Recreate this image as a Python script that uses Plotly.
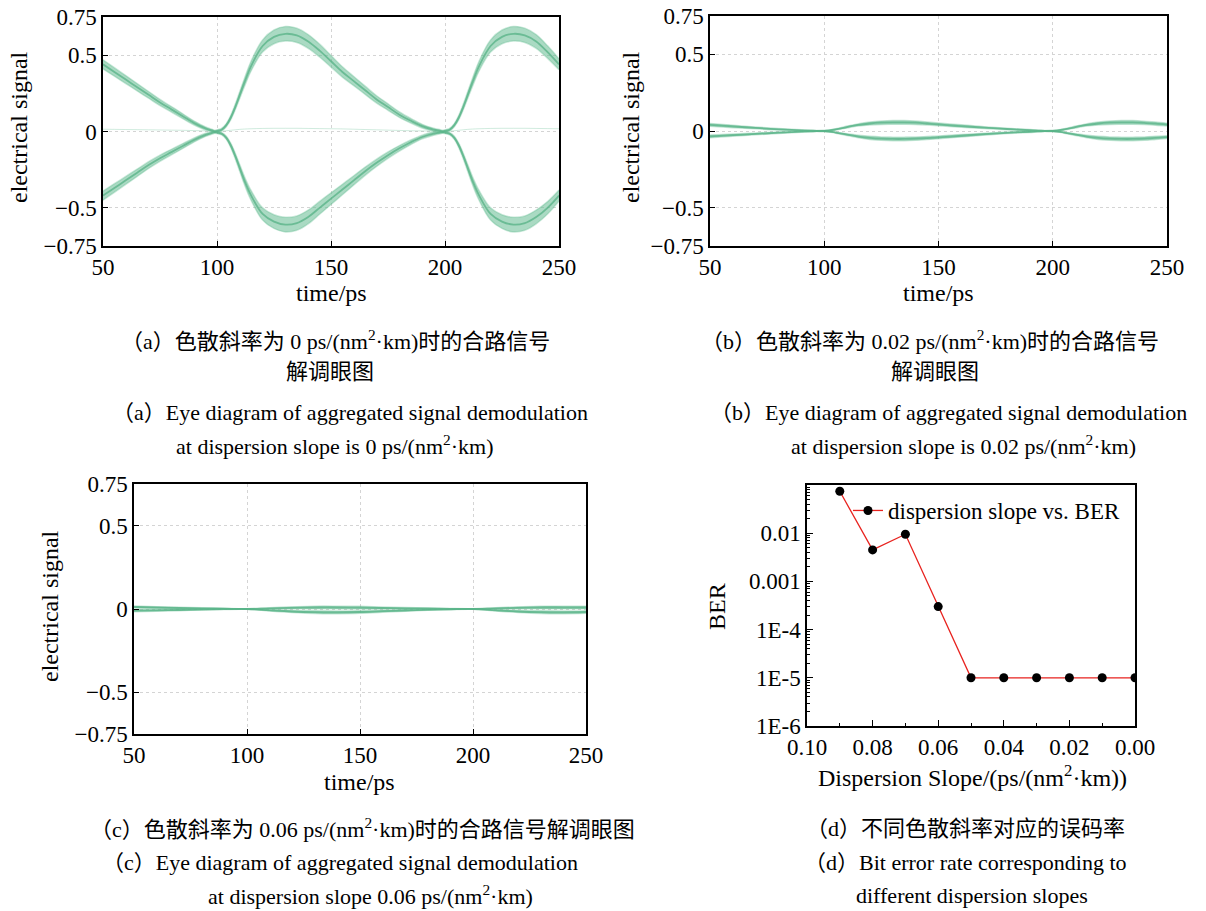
import plotly.graph_objects as go

# ---------------- data ----------------
# time axis samples (ps)
t_a = [50, 55, 60, 65, 70, 75, 80, 85, 90, 95, 98, 99, 100, 102, 104, 106, 108, 110, 112, 115,
       120, 125, 130, 135, 140, 145, 150, 155, 160, 165, 170, 175, 180, 185, 190, 195, 198, 199,
       200, 202, 204, 206, 208, 210, 212, 215, 220, 225, 230, 235, 240, 245, 250]
# (a) dispersion slope 0: upper / lower trace bundles (centre) and their spread
a_upper = [0.44, 0.39, 0.34, 0.29, 0.24, 0.19, 0.145, 0.10, 0.055, 0.02, 0.006, 0.0, 0.004, 0.012, 0.04,
           0.09, 0.16, 0.24, 0.32, 0.43, 0.56, 0.62, 0.64, 0.63, 0.59, 0.53, 0.46, 0.39, 0.33, 0.27,
           0.21, 0.16, 0.11, 0.07, 0.035, 0.012, 0.004, 0.0, 0.004, 0.012, 0.04, 0.09, 0.16, 0.24,
           0.32, 0.43, 0.56, 0.62, 0.64, 0.63, 0.59, 0.52, 0.44]
a_lower = [-0.42, -0.37, -0.32, -0.27, -0.22, -0.175, -0.135, -0.095, -0.055, -0.022, -0.008, -0.004,
           -0.006, -0.014, -0.04, -0.09, -0.16, -0.24, -0.32, -0.42, -0.54, -0.59, -0.61, -0.60,
           -0.56, -0.50, -0.44, -0.38, -0.32, -0.26, -0.205, -0.155, -0.11, -0.07, -0.036, -0.014,
           -0.006, -0.004, -0.006, -0.014, -0.04, -0.09, -0.16, -0.24, -0.32, -0.42, -0.54, -0.59,
           -0.61, -0.60, -0.56, -0.50, -0.42]
a_spread = [0.03, 0.028, 0.026, 0.024, 0.022, 0.02, 0.018, 0.016, 0.013, 0.01, 0.008, 0.008, 0.008, 0.008,
            0.01, 0.014, 0.018, 0.022, 0.026, 0.032, 0.04, 0.045, 0.048, 0.047, 0.045, 0.042, 0.038,
            0.034, 0.03, 0.027, 0.024, 0.021, 0.018, 0.015, 0.012, 0.01, 0.008, 0.008, 0.008, 0.008,
            0.01, 0.014, 0.018, 0.022, 0.026, 0.032, 0.04, 0.045, 0.048, 0.047, 0.045, 0.041, 0.036]
a_faint = [0.015, 0.014, 0.013, 0.012, 0.011, 0.01, 0.009, 0.008, 0.006, 0.004, 0.002, 0.001, 0.0, 0.002,
           0.005, 0.008, 0.011, 0.014, 0.016, 0.018, 0.02, 0.021, 0.021, 0.021, 0.02, 0.019, 0.018,
           0.017, 0.015, 0.013, 0.011, 0.009, 0.007, 0.005, 0.004, 0.002, 0.001, 0.0, 0.0, 0.002,
           0.005, 0.008, 0.011, 0.014, 0.016, 0.018, 0.02, 0.021, 0.021, 0.021, 0.02, 0.019, 0.018]

t_b = [50, 60, 70, 80, 90, 95, 100, 105, 110, 115, 120, 125, 130, 135, 140, 145, 150, 160, 170, 180,
       190, 195, 200, 205, 210, 215, 220, 225, 230, 235, 240, 245, 250]
# (b) dispersion slope 0.02
b_upper = [0.040, 0.030, 0.020, 0.011, 0.004, 0.002, 0.0, 0.010, 0.026, 0.040, 0.049, 0.054, 0.056,
           0.056, 0.054, 0.049, 0.043, 0.032, 0.022, 0.013, 0.005, 0.002, 0.0, 0.010, 0.026, 0.040,
           0.049, 0.054, 0.056, 0.056, 0.053, 0.048, 0.042]
b_lower = [-0.035, -0.027, -0.019, -0.011, -0.004, -0.002, 0.0, -0.010, -0.024, -0.036, -0.045, -0.050,
           -0.052, -0.052, -0.050, -0.046, -0.041, -0.031, -0.021, -0.012, -0.005, -0.002, 0.0, -0.010,
           -0.024, -0.036, -0.045, -0.050, -0.052, -0.052, -0.050, -0.045, -0.040]
b_spread = [0.009, 0.008, 0.006, 0.005, 0.004, 0.003, 0.003, 0.004, 0.006, 0.008, 0.010, 0.011, 0.012,
            0.012, 0.011, 0.010, 0.009, 0.008, 0.006, 0.005, 0.004, 0.003, 0.003, 0.004, 0.006, 0.008,
            0.010, 0.011, 0.012, 0.012, 0.011, 0.010, 0.009]

t_c = [50, 60, 70, 80, 90, 100, 110, 120, 130, 140, 150, 160, 170, 180, 190, 200, 210, 220, 230,
       240, 250]
# (c) dispersion slope 0.06
c_upper = [0.012, 0.009, 0.006, 0.004, 0.002, 0.0, 0.004, 0.007, 0.009, 0.009, 0.008, 0.006, 0.004,
           0.003, 0.001, 0.0, 0.004, 0.007, 0.009, 0.009, 0.009]
c_lower = [-0.010, -0.008, -0.006, -0.003, -0.001, 0.0, -0.008, -0.015, -0.019, -0.020, -0.018, -0.013,
           -0.009, -0.005, -0.002, 0.0, -0.008, -0.015, -0.019, -0.020, -0.018]
c_spread = [0.006, 0.005, 0.004, 0.003, 0.002, 0.002, 0.004, 0.006, 0.008, 0.008, 0.008, 0.006, 0.005,
            0.003, 0.002, 0.002, 0.004, 0.006, 0.008, 0.008, 0.008]

# (d) BER versus dispersion slope
slope = [0.09, 0.08, 0.07, 0.06, 0.05, 0.04, 0.03, 0.02, 0.01, 0.00]
ber = [0.074, 0.0045, 0.0095, 0.0003, 1e-5, 1e-5, 1e-5, 1e-5, 1e-5, 1e-5]

eye_xticks = [50, 100, 150, 200, 250]
eye_yticks = [-0.75, -0.5, 0, 0.5, 0.75]
eye_ytext = ["\u22120.75", "\u22120.5", "0", "0.5", "0.75"]
ber_yticks = [1e-6, 1e-5, 1e-4, 1e-3, 1e-2]
ber_ytext = ["1E-6", "1E-5", "1E-4", "0.001", "0.01"]
ber_xticks = [0.10, 0.08, 0.06, 0.04, 0.02, 0.00]
ber_xtext = ["0.10", "0.08", "0.06", "0.04", "0.02", "0.00"]

# ---------------- styling ----------------
W, H = 1206, 911
SERIF = "Liberation Serif"
CAP = "Liberation Serif, Noto Sans CJK SC"
GREEN_FILL = "rgba(100,188,146,0.55)"
GREEN_EDGE = "rgba(100,188,146,0.35)"
GREEN_CORE = "rgba(86,178,134,0.75)"
TICKF = dict(family=SERIF, size=23, color="black")


def px_x(p):
    return p / W


def px_y(p):
    return 1 - p / H


fig = go.Figure()


def add_band(t, centre, spread, xa, ya):
    hi = [c + s for c, s in zip(centre, spread)]
    lo = [c - s for c, s in zip(centre, spread)]
    fig.add_trace(go.Scatter(x=t, y=hi, mode="lines", line=dict(width=1.5, color=GREEN_EDGE, shape="spline"),
                             xaxis=xa, yaxis=ya, showlegend=False, hoverinfo="skip"))
    fig.add_trace(go.Scatter(x=t, y=lo, mode="lines", line=dict(width=1.5, color=GREEN_EDGE, shape="spline"),
                             fill="tonexty", fillcolor=GREEN_FILL,
                             xaxis=xa, yaxis=ya, showlegend=False, hoverinfo="skip"))
    fig.add_trace(go.Scatter(x=t, y=centre, mode="lines", line=dict(width=1.8, color=GREEN_CORE, shape="spline"),
                             xaxis=xa, yaxis=ya, showlegend=False, hoverinfo="skip"))


# (a)
fig.add_trace(go.Scatter(x=t_a, y=a_faint, mode="lines", line=dict(width=1, color="rgba(100,188,146,0.3)", shape="spline"),
                         xaxis="x", yaxis="y", showlegend=False, hoverinfo="skip"))
add_band(t_a, a_upper, a_spread, "x", "y")
add_band(t_a, a_lower, a_spread, "x", "y")
# (b)
add_band(t_b, b_upper, b_spread, "x2", "y2")
add_band(t_b, b_lower, b_spread, "x2", "y2")
# (c)
add_band(t_c, c_upper, c_spread, "x3", "y3")
add_band(t_c, c_lower, c_spread, "x3", "y3")
# (d)
fig.add_trace(go.Scatter(x=slope, y=ber, mode="lines+markers", name="dispersion slope vs. BER",
                         line=dict(color="#e8231f", width=1.3),
                         marker=dict(color="black", size=9),
                         xaxis="x4", yaxis="y4", showlegend=True))

GRID = "#d4d4d4"


def eye_axes(xdom, ydom, anchor_x, anchor_y):
    xa = dict(domain=xdom, anchor=anchor_y, range=[50, 250], tickmode="array", tickvals=eye_xticks,
              ticks="inside", ticklen=5, tickwidth=1, tickcolor="black",
              showline=True, linecolor="black", linewidth=1.5, mirror=True,
              showgrid=True, gridcolor=GRID, griddash="dot", gridwidth=1, zeroline=False,
              tickfont=TICKF, automargin=False)
    ya = dict(domain=ydom, anchor=anchor_x, range=[-0.75, 0.75], tickmode="array", tickvals=eye_yticks,
              ticktext=eye_ytext, ticks="inside", ticklen=5, tickwidth=1, tickcolor="black",
              showline=True, linecolor="black", linewidth=1.5, mirror=True,
              showgrid=True, gridcolor=GRID, griddash="dot", gridwidth=1, zeroline=False,
              tickfont=TICKF, automargin=False)
    return xa, ya


xa1, ya1 = eye_axes([px_x(103), px_x(559)], [px_y(246), px_y(17)], "x", "y")
xa2, ya2 = eye_axes([px_x(710), px_x(1167)], [px_y(246), px_y(16)], "x2", "y2")
xa3, ya3 = eye_axes([px_x(134), px_x(586)], [px_y(734), px_y(484)], "x3", "y3")

minor_x = [0.09, 0.07, 0.05, 0.03, 0.01]
minor_y = [m * 10 ** e for e in range(-6, -1) for m in range(2, 10)]

xa4 = dict(domain=[px_x(807), px_x(1135)], anchor="y4", range=[0.10, 0.0], tickmode="array",
           tickvals=ber_xticks, ticktext=ber_xtext, ticks="inside", ticklen=6, tickcolor="black",
           minor=dict(tickvals=minor_x, ticks="inside", ticklen=3, tickcolor="black", showgrid=False),
           showline=True, linecolor="black", linewidth=1.5, mirror=True, showgrid=False, zeroline=False,
           tickfont=TICKF, automargin=False)
ya4 = dict(domain=[px_y(726), px_y(485)], anchor="x4", type="log", range=[-6, -1], tickmode="array",
           tickvals=ber_yticks, ticktext=ber_ytext, ticks="inside", ticklen=6, tickcolor="black",
           minor=dict(tickvals=minor_y, ticks="inside", ticklen=3, tickcolor="black", showgrid=False),
           showline=True, linecolor="black", linewidth=1.5, mirror=True, showgrid=False, zeroline=False,
           tickfont=TICKF, automargin=False)

fig.update_layout(
    width=W, height=H, margin=dict(l=0, r=0, t=0, b=0),
    paper_bgcolor="white", plot_bgcolor="white",
    xaxis=xa1, yaxis=ya1, xaxis2=xa2, yaxis2=ya2, xaxis3=xa3, yaxis3=ya3, xaxis4=xa4, yaxis4=ya4,
    showlegend=True,
    legend=dict(x=px_x(848), y=px_y(489), xanchor="left", yanchor="top", bgcolor="rgba(0,0,0,0)",
                font=dict(family=SERIF, size=23, color="black"), itemwidth=30,
                tracegroupgap=0),
)

TITLEF = dict(family=SERIF, size=24, color="black")
CAPF = dict(family=CAP, size=22, color="black")


def ann(text, x, y, font, angle=0):
    fig.add_annotation(text=text, x=px_x(x), y=px_y(y), xref="paper", yref="paper",
                       xanchor="center", yanchor="middle", showarrow=False, font=font, textangle=angle)


# axis titles
ann("time/ps", 331, 293, TITLEF)
ann("electrical signal", 19, 127, TITLEF, -90)
ann("time/ps", 938, 293, TITLEF)
ann("electrical signal", 631, 127, TITLEF, -90)
ann("time/ps", 360, 782, TITLEF)
ann("electrical signal", 50, 606, TITLEF, -90)
ann("Dispersion Slope/(ps/(nm<sup>2</sup>\u00b7km))", 972, 776, TITLEF)
ann("BER", 717, 607, TITLEF, -90)

# captions
ann("（a）色散斜率为 0 ps/(nm<sup>2</sup>\u00b7km)时的合路信号", 335, 340, CAPF)
ann("解调眼图", 330, 371, CAPF)
ann("（a）Eye diagram of aggregated signal demodulation", 350, 412, CAPF)
ann("at dispersion slope is 0 ps/(nm<sup>2</sup>\u00b7km)", 335, 445, CAPF)
ann("（b）色散斜率为 0.02 ps/(nm<sup>2</sup>\u00b7km)时的合路信号", 930, 340, CAPF)
ann("解调眼图", 935, 371, CAPF)
ann("（b）Eye diagram of aggregated signal demodulation", 948, 412, CAPF)
ann("at dispersion slope is 0.02 ps/(nm<sup>2</sup>\u00b7km)", 963, 445, CAPF)
ann("（c）色散斜率为 0.06 ps/(nm<sup>2</sup>\u00b7km)时的合路信号解调眼图", 362, 828, CAPF)
ann("（c）Eye diagram of aggregated signal demodulation", 340, 862, CAPF)
ann("at dispersion slope 0.06 ps/(nm<sup>2</sup>\u00b7km)", 370, 895, CAPF)
ann("（d）不同色散斜率对应的误码率", 965, 828, CAPF)
ann("（d）Bit error rate corresponding to", 965, 862, CAPF)
ann("different dispersion slopes", 972, 895, CAPF)

fig.write_html("out.html")
